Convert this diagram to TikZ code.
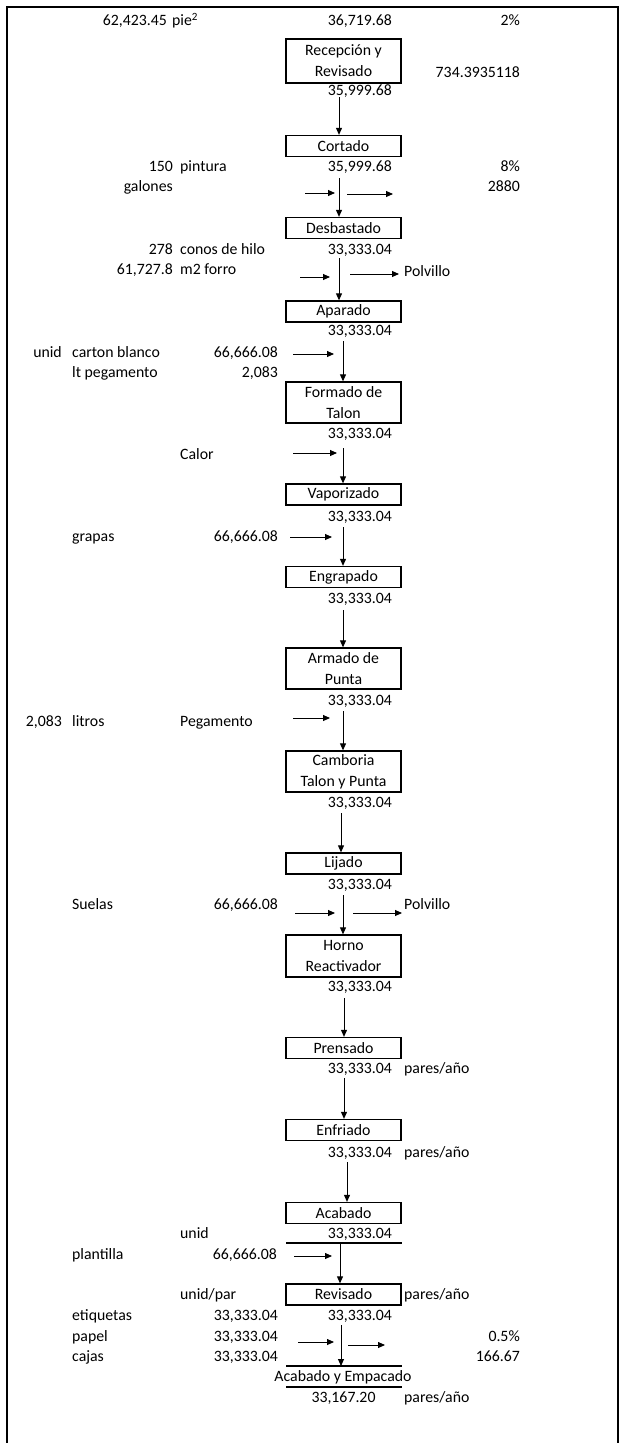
\documentclass[tikz,border=0pt]{standalone}
\usepackage{fontspec}
\setmainfont{Carlito}
\usetikzlibrary{arrows.meta}
\begin{document}
\begin{tikzpicture}[x=1pt,y=-1pt,
  every node/.style={font=\fontsize{15.8}{21}\selectfont, inner sep=0pt},
  t/.style={text height=9.5pt, text depth=0pt},
  box/.style={draw, line width=1.3pt, minimum width=115pt, minimum height=21pt, align=center},
  arr/.style={line width=0.9pt, -{Triangle[length=7pt,width=6pt]}},
  frame/.style={line width=2pt},
  rule/.style={line width=1.3pt}]
\useasboundingbox (0,0) rectangle (619,1443);
\draw[frame] (7,1443) -- (7,7) -- (618,7) -- (618,1443);

% ---- boxes ----
\node[box, minimum height=44pt] (rec) at (343.5,61) {Recepción y\\Revisado};
\node[box] (cort) at (343.5,146) {Cortado};
\node[box] (desb) at (343.5,228) {Desbastado};
\node[box] (apar) at (343.5,311.5) {Aparado};
\node[box, minimum height=41pt] (form) at (343.5,402.5) {Formado de\\Talon};
\node[box] (vap) at (343.5,494.5) {Vaporizado};
\node[box] (engr) at (343.5,577) {Engrapado};
\node[box, minimum height=41pt] (arm) at (343.5,668.5) {Armado de\\Punta};
\node[box, minimum height=41pt] (camb) at (343.5,771.5) {Camboria\\Talon y Punta};
\node[box] (lij) at (343.5,863.5) {Lijado};
\node[box, minimum height=42pt] (horno) at (343.5,956) {Horno\\Reactivador};
\node[box] (prens) at (343.5,1048) {Prensado};
\node[box] (enfr) at (343.5,1130) {Enfriado};
\node[box] (acab) at (343.5,1213) {Acabado};
\node[box] (revis) at (343.5,1294.5) {Revisado};
\node[t] (empac) at (343,1377) {Acabado y Empacado};
\draw[rule] (286,1366) coordinate (empT) -- (402,1366);
\draw[rule] (286,1387) -- (402,1387);
\draw[rule] (286,1243) -- (402,1243);

% ---- top texts ----
\node[t, anchor=east] (a1) at (167,21) {62,423.45};
\node[t, anchor=west] (a2) at (172,21) {pie\textsuperscript{2}};
\node[t, anchor=east] (a3) at (392,21) {36,719.68};
\node[t, anchor=east] (a4) at (520,21) {2\%};
\node[t, anchor=east] (a5) at (520,73) {734.3935118};
\node[t, anchor=east] (a6) at (392,91) {35,999.68};

\node[t, anchor=east] (b1) at (173,167) {150};
\node[t, anchor=west] (b2) at (180,167) {pintura};
\node[t, anchor=east] (b3) at (392,167) {35,999.68};
\node[t, anchor=east] (b4) at (520,167) {8\%};
\node[t, anchor=east] (b5) at (173,187) {galones};
\node[t, anchor=east] (b6) at (520,187) {2880};

\node[t, anchor=east] (c1) at (173,250) {278};
\node[t, anchor=west] (c2) at (180,250) {conos de hilo};
\node[t, anchor=east] (c3) at (392,250) {33,333.04};
\node[t, anchor=east] (c4) at (173,270) {61,727.8};
\node[t, anchor=west] (c5) at (180,270) {m2 forro};
\node[t, anchor=west] (polv1) at (404,272) {Polvillo};

\node[t, anchor=east] (d1) at (392,331) {33,333.04};
\node[t, anchor=east] (d2) at (62,353) {unid};
\node[t, anchor=west] (d3) at (72,353) {carton blanco};
\node[t, anchor=east] (d4) at (278,353) {66,666.08};
\node[t, anchor=west] (d5) at (72,373) {lt pegamento};
\node[t, anchor=east] (d6) at (278,373) {2,083};

\node[t, anchor=east] (e1) at (392,434) {33,333.04};
\node[t, anchor=west] (e2) at (180,455) {Calor};
\node[t, anchor=east] (e3) at (392,517) {33,333.04};
\node[t, anchor=west] (e4) at (72,537) {grapas};
\node[t, anchor=east] (e5) at (278,537) {66,666.08};
\node[t, anchor=east] (e6) at (392,599) {33,333.04};

\node[t, anchor=east] (f1) at (392,701) {33,333.04};
\node[t, anchor=east] (f2) at (62,722) {2,083};
\node[t, anchor=west] (f3) at (72,722) {litros};
\node[t, anchor=west] (f4) at (180,722) {Pegamento};
\node[t, anchor=east] (f5) at (392,803) {33,333.04};
\node[t, anchor=east] (f6) at (392,885) {33,333.04};
\node[t, anchor=west] (f7) at (72,905) {Suelas};
\node[t, anchor=east] (f8) at (278,905) {66,666.08};
\node[t, anchor=west] (polv2) at (404,905) {Polvillo};

\node[t, anchor=east] (g1) at (392,987) {33,333.04};
\node[t, anchor=east] (g2) at (392,1069) {33,333.04};
\node[t, anchor=west] (g3) at (404,1069) {pares/año};
\node[t, anchor=east] (g4) at (392,1153) {33,333.04};
\node[t, anchor=west] (g5) at (404,1153) {pares/año};

\node[t, anchor=west] (h1) at (180,1234) {unid};
\node[t, anchor=east] (h2) at (392,1234) {33,333.04};
\node[t, anchor=west] (h3) at (72,1255) {plantilla};
\node[t, anchor=east] (h4) at (277,1255) {66,666.08};
\node[t, anchor=west] (h5) at (180,1295) {unid/par};
\node[t, anchor=west] (h6) at (404,1295) {pares/año};
\node[t, anchor=west] (h7) at (72,1316) {etiquetas};
\node[t, anchor=east] (h8) at (278,1316) {33,333.04};
\node[t, anchor=east] (h9) at (392,1316) {33,333.04};
\node[t, anchor=west] (h10) at (72,1337) {papel};
\node[t, anchor=east] (h11) at (278,1337) {33,333.04};
\node[t, anchor=east] (h12) at (520,1337) {0.5\%};
\node[t, anchor=west] (h13) at (72,1357) {cajas};
\node[t, anchor=east] (h14) at (278,1357) {33,333.04};
\node[t, anchor=east] (h15) at (520,1357) {166.67};
\node[t] (i1) at (343.5,1398) {33,167.20};
\node[t, anchor=west] (i2) at (404,1398) {pares/año};

% ---- vertical arrows ----
\coordinate (v1) at (339,97);
\coordinate (v2) at (339,178);
\coordinate (v3) at (339,258);
\coordinate (v4) at (343,341);
\coordinate (v5) at (343,448);
\coordinate (v6) at (343,527);
\coordinate (v7) at (343,610);
\coordinate (v8) at (343,711);
\coordinate (v9) at (341,813);
\coordinate (v10) at (343,895);
\coordinate (v11) at (344,998);
\coordinate (v12) at (344,1078);
\coordinate (v13) at (347,1162);
\coordinate (v14) at (340,1243);
\coordinate (v15) at (341,1325);
\draw[arr] (v1) -- (v1 |- cort.north);
\draw[arr] (v2) -- (v2 |- desb.north);
\draw[arr] (v3) -- (v3 |- apar.north);
\draw[arr] (v4) -- (v4 |- form.north);
\draw[arr] (v5) -- (v5 |- vap.north);
\draw[arr] (v6) -- (v6 |- engr.north);
\draw[arr] (v7) -- (v7 |- arm.north);
\draw[arr] (v8) -- (v8 |- camb.north);
\draw[arr] (v9) -- (v9 |- lij.north);
\draw[arr] (v10) -- (v10 |- horno.north);
\draw[arr] (v11) -- (v11 |- prens.north);
\draw[arr] (v12) -- (v12 |- enfr.north);
\draw[arr] (v13) -- (v13 |- acab.north);
\draw[arr] (v14) -- (v14 |- revis.north);
\draw[arr] (v15) -- (v15 |- empT);

% ---- horizontal arrows ----
\coordinate (i1s) at (305,193);  \coordinate (i1e) at (335,193);
\coordinate (o1s) at (347,194);  \coordinate (o1e) at (393,194);
\coordinate (i2s) at (300,277);  \coordinate (i2e) at (330,277);
\coordinate (o2s) at (350,274);
\coordinate (i3s) at (293,354);  \coordinate (i3e) at (334,354);
\coordinate (i4s) at (293,453);  \coordinate (i4e) at (337,453);
\coordinate (i5s) at (290,537);  \coordinate (i5e) at (332,537);
\coordinate (i6s) at (293,718);  \coordinate (i6e) at (330,718);
\coordinate (i7s) at (295,913);  \coordinate (i7e) at (335,913);
\coordinate (o3s) at (353,913);
\coordinate (i8s) at (294,1256); \coordinate (i8e) at (332,1256);
\coordinate (i9s) at (298,1342); \coordinate (i9e) at (334,1342);
\coordinate (o4s) at (348,1345); \coordinate (o4e) at (385,1345);
\draw[arr] (i1s) -- (i1e);
\draw[arr] (o1s) -- (o1e);
\draw[arr] (i2s) -- (i2e);
\draw[arr] (o2s) -- ([xshift=-5pt]polv1.west |- o2s);
\draw[arr] (i3s) -- (i3e);
\draw[arr] (i4s) -- (i4e);
\draw[arr] (i5s) -- (i5e);
\draw[arr] (i6s) -- (i6e);
\draw[arr] (i7s) -- (i7e);
\draw[arr] (o3s) -- ([xshift=-2pt]polv2.west |- o3s);
\draw[arr] (i8s) -- (i8e);
\draw[arr] (i9s) -- (i9e);
\draw[arr] (o4s) -- (o4e);
\end{tikzpicture}
\end{document}
